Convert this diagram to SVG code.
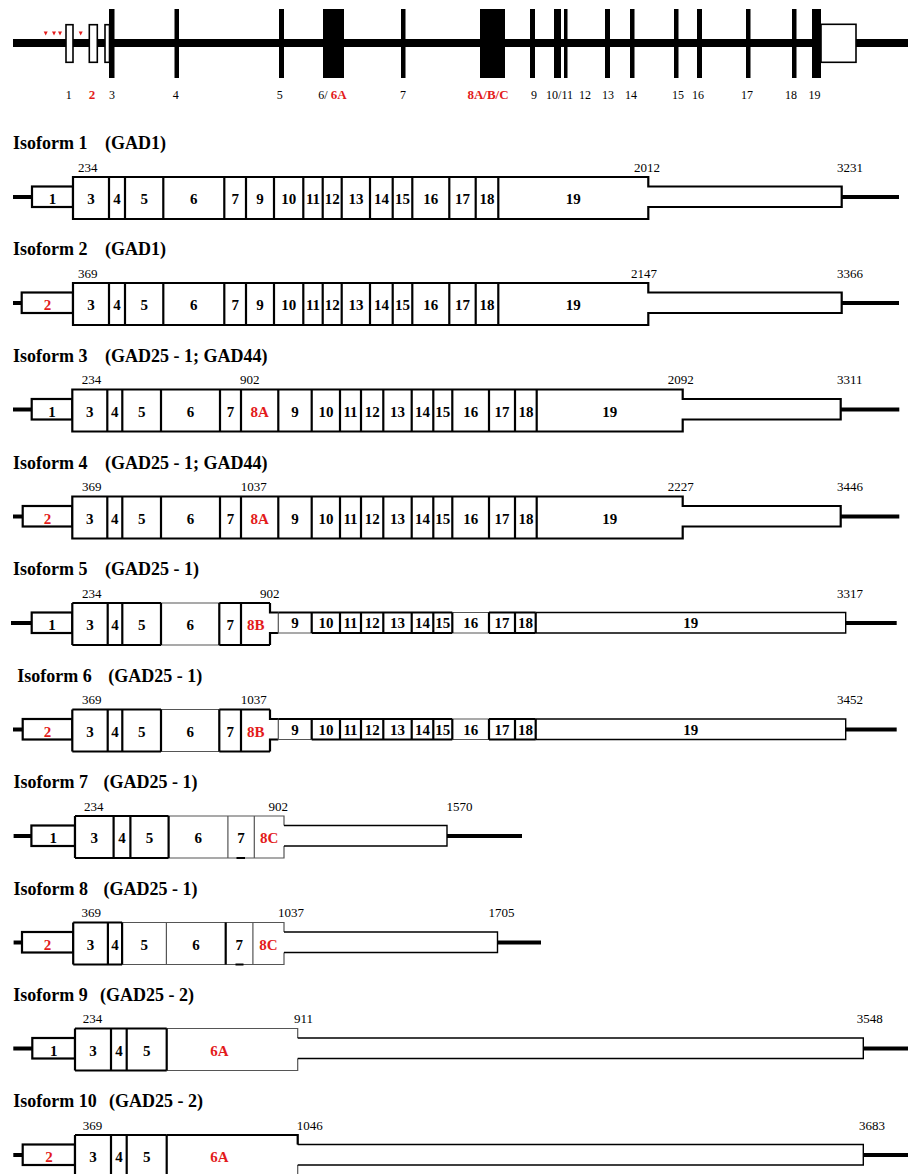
<svg xmlns="http://www.w3.org/2000/svg" width="908" height="1174" viewBox="0 0 908 1174">
<style>
.t{font-family:"Liberation Serif","Times New Roman",serif;fill:#000}
.title{font-size:18px;font-weight:bold}
.ex{font-family:"Liberation Serif","Times New Roman",serif;font-size:15px;font-weight:bold;text-anchor:middle;fill:#000}
.num{font-family:"Liberation Serif","Times New Roman",serif;font-size:13px;fill:#000}
.gl{font-family:"Liberation Serif","Times New Roman",serif;font-size:12px;text-anchor:middle;fill:#000}
.red{fill:#e31b1b}
.ln{stroke:#000;stroke-width:4}
.bx{fill:#fff;stroke:#000;stroke-width:2.2}
.dv{fill:none;stroke:#000;stroke-width:2.2}
.thin{fill:none;stroke:#555;stroke-width:1.2}
.mid{fill:none;stroke:#000;stroke-width:1.4}
.ob{fill:#fff;stroke:#000;stroke-width:1.6}
</style>
<defs>
<g id="core1">
<path class="bx" d="M73,0H648.3V9.5H841.7V30H648.3V42H73Z"/>
<path class="dv" d="M109,0V42M125,0V42M163.3,0V42M224.3,0V42M246,0V42M274,0V42M303.3,0V42M322.7,0V42M341.7,0V42M370,0V42M392.7,0V42M412.3,0V42M449.3,0V42M475.7,0V42M498.3,0V42"/>
<line class="ln" x1="841.7" y1="20" x2="899" y2="20"/>
<text class="ex" y="27"><tspan x="91">3</tspan><tspan x="117">4</tspan><tspan x="144.2">5</tspan><tspan x="193.8">6</tspan><tspan x="235.2">7</tspan><tspan x="260">9</tspan><tspan x="288.7">10</tspan><tspan x="313">11</tspan><tspan x="332.2">12</tspan><tspan x="355.9">13</tspan><tspan x="381.4">14</tspan><tspan x="402.5">15</tspan><tspan x="430.8">16</tspan><tspan x="462.5">17</tspan><tspan x="487">18</tspan><tspan x="573.3">19</tspan></text>
</g>
<g id="core3">
<path class="bx" d="M72.3,0H682.7V9.5H840.7V30H682.7V42H72.3Z"/>
<path class="dv" d="M107.3,0V42M122.3,0V42M161,0V42M220,0V42M241,0V42M278.3,0V42M311.7,0V42M340,0V42M361,0V42M383.3,0V42M411.7,0V42M433.3,0V42M452.3,0V42M489,0V42M515,0V42M536.7,0V42"/>
<line class="ln" x1="840.7" y1="20" x2="899.3" y2="20"/>
<text class="ex" y="27"><tspan x="89.8">3</tspan><tspan x="114.8">4</tspan><tspan x="141.7">5</tspan><tspan x="190.5">6</tspan><tspan x="230.5">7</tspan><tspan x="259.7" class="red">8A</tspan><tspan x="295">9</tspan><tspan x="325.9">10</tspan><tspan x="350.5">11</tspan><tspan x="372.2">12</tspan><tspan x="397.5">13</tspan><tspan x="422.5">14</tspan><tspan x="442.8">15</tspan><tspan x="470.7">16</tspan><tspan x="502">17</tspan><tspan x="525.9">18</tspan><tspan x="609.7">19</tspan></text>
</g>
<g id="core5">
<rect x="72.3" y="0" width="197.7" height="42" fill="#fff"/>
<path class="thin" d="M161,0H219.3M161,42H219.3"/>
<path class="dv" d="M72.3,0H161M72.3,42H161M219.3,0H270M219.3,42H270M72.3,0V42M107.7,0V42M122.3,0V42M161,0V42M219.3,0V42M241,0V42M270,0V9.5H278.3M270,42V30H278.3"/>
<rect x="278.3" y="9.5" width="567.4" height="20.5" fill="#fff"/>
<path class="thin" d="M278.3,9.5V30H311.7M452.3,9.5H489M452.3,30H489"/>
<path class="dv" d="M278.3,9.5H452.3M489,9.5H535.7M311.7,30H452.3M489,30H535.7M311.7,9.5V30M340,9.5V30M361,9.5V30M383.3,9.5V30M411.7,9.5V30M433.3,9.5V30M452.3,9.5V30M489,9.5V30M515,9.5V30M535.7,9.5V30"/>
<path class="mid" d="M535.7,9.5H845.7V30H535.7"/>
<line class="ln" x1="845.7" y1="20" x2="896.7" y2="20"/>
<text class="ex" y="27"><tspan x="90">3</tspan><tspan x="115">4</tspan><tspan x="141.7">5</tspan><tspan x="190.2">6</tspan><tspan x="230.2">7</tspan><tspan x="255.7" class="red">8B</tspan></text>
<text class="ex" y="25"><tspan x="295">9</tspan><tspan x="325.9">10</tspan><tspan x="350.5">11</tspan><tspan x="372.2">12</tspan><tspan x="397.5">13</tspan><tspan x="422.5">14</tspan><tspan x="442.8">15</tspan><tspan x="470.7">16</tspan><tspan x="502">17</tspan><tspan x="525.4">18</tspan><tspan x="690.7">19</tspan></text>
</g>
<g id="core9">
<rect x="75" y="0" width="222.7" height="42" fill="#fff"/>
<path class="thin" d="M166.7,0H297.7V9.5M166.7,42H297.7V30"/>
<path class="dv" d="M75,0H166.7M75,42H166.7M75,0V42M111,0V42M126.7,0V42M166.7,0V42"/>
<rect x="297.7" y="9.5" width="565.6" height="20.5" fill="#fff"/>
<path class="mid" d="M297.7,9.5H863.3V30H297.7"/>
<line class="ln" x1="863.3" y1="20" x2="908" y2="20"/>
<text class="ex" y="27"><tspan x="93">3</tspan><tspan x="118.9">4</tspan><tspan x="146.7">5</tspan><tspan x="219.3" class="red">6A</tspan></text>
</g>
</defs>

<g id="gene">
<line x1="13" y1="43" x2="908" y2="43" stroke="#000" stroke-width="8"/>
<rect class="ob" x="66" y="24.7" width="7" height="37.6"/>
<rect class="ob" x="89.3" y="24.7" width="8" height="37.6"/>
<rect class="ob" x="105" y="24.7" width="4.5" height="37.6"/>
<g fill="#000">
<rect x="109" y="9" width="5.5" height="69"/>
<rect x="174.5" y="9" width="4.5" height="69"/>
<rect x="279" y="9" width="5" height="69"/>
<rect x="323" y="9" width="21" height="69"/>
<rect x="401" y="9" width="4.5" height="69"/>
<rect x="480" y="9" width="25" height="69"/>
<rect x="530" y="9" width="5" height="69"/>
<rect x="554" y="9" width="7" height="69"/>
<rect x="564" y="9" width="3.5" height="69"/>
<rect x="605" y="9" width="5" height="69"/>
<rect x="630" y="9" width="4.5" height="69"/>
<rect x="674" y="9" width="4.5" height="69"/>
<rect x="697" y="9" width="5" height="69"/>
<rect x="746" y="9" width="4.5" height="69"/>
<rect x="792" y="9" width="4.5" height="69"/>
<rect x="812" y="9" width="9" height="69"/>
</g>
<rect class="ob" x="821" y="24.3" width="35" height="38"/>
<g fill="#e31b1b">
<polygon points="43.7,31.5 47.7,31.5 45.7,35.5"/>
<polygon points="52,31.5 56,31.5 54,35.5"/>
<polygon points="58,31.5 62,31.5 60,35.5"/>
<polygon points="78.7,31.5 82.7,31.5 80.7,35.5"/>
</g>
<text class="gl" y="99"><tspan x="68.7">1</tspan><tspan x="92" class="red" font-weight="bold" font-size="13">2</tspan><tspan x="112">3</tspan><tspan x="175.7">4</tspan><tspan x="279.7">5</tspan><tspan x="403">7</tspan><tspan x="534">9</tspan><tspan x="559.5">10/11</tspan><tspan x="585">12</tspan><tspan x="608">13</tspan><tspan x="631">14</tspan><tspan x="678">15</tspan><tspan x="698">16</tspan><tspan x="747">17</tspan><tspan x="791">18</tspan><tspan x="814.5">19</tspan></text>
<text class="t" x="318.3" y="99" font-size="12">6/ <tspan class="red" font-weight="bold" font-size="13">6A</tspan></text>
<text class="t red" x="488" y="99" font-size="13" font-weight="bold" text-anchor="middle">8A/B/C</text>
</g>

<g id="iso1">
<text class="t title" x="13" y="149">Isoform 1</text>
<text class="t title" x="105" y="149">(GAD1)</text>
<line class="ln" x1="13" y1="197" x2="32" y2="197"/>
<rect class="bx" x="32" y="186.5" width="41" height="20.5"/>
<use href="#core1" y="177"/>
<text class="ex" x="52.5" y="204">1</text>
<text class="num" x="78" y="171.5">234</text>
<text class="num" x="634" y="171.5">2012</text>
<text class="num" x="837" y="171.5">3231</text>
</g>

<g id="iso2">
<text class="t title" x="13" y="255">Isoform 2</text>
<text class="t title" x="105" y="255">(GAD1)</text>
<line class="ln" x1="13" y1="303" x2="21.7" y2="303"/>
<rect class="bx" x="21.7" y="292.5" width="51.3" height="20.5"/>
<use href="#core1" y="283"/>
<text class="ex red" x="47.4" y="310">2</text>
<text class="num" x="78" y="277.5">369</text>
<text class="num" x="631" y="277.5">2147</text>
<text class="num" x="837" y="277.5">3366</text>
</g>

<g id="iso3">
<text class="t title" x="13" y="361.5">Isoform 3</text>
<text class="t title" x="105" y="361.5">(GAD25 - 1; GAD44)</text>
<line class="ln" x1="13" y1="409.5" x2="31.7" y2="409.5"/>
<rect class="bx" x="31.7" y="399" width="40.6" height="20.5"/>
<use href="#core3" y="389.5"/>
<text class="ex" x="52" y="416.5">1</text>
<text class="num" x="81.7" y="384">234</text>
<text class="num" x="240" y="384">902</text>
<text class="num" x="667.7" y="384">2092</text>
<text class="num" x="837" y="384">3311</text>
</g>

<g id="iso4">
<text class="t title" x="13" y="468.5">Isoform 4</text>
<text class="t title" x="105" y="468.5">(GAD25 - 1; GAD44)</text>
<line class="ln" x1="13" y1="516.5" x2="22.7" y2="516.5"/>
<rect class="bx" x="22.7" y="506" width="49.6" height="20.5"/>
<use href="#core3" y="496.5"/>
<text class="ex red" x="47.5" y="523.5">2</text>
<text class="num" x="82" y="491">369</text>
<text class="num" x="240.7" y="491">1037</text>
<text class="num" x="667.7" y="491">2227</text>
<text class="num" x="837" y="491">3446</text>
</g>

<g id="iso5">
<text class="t title" x="13" y="575">Isoform 5</text>
<text class="t title" x="105" y="575">(GAD25 - 1)</text>
<line class="ln" x1="11" y1="623" x2="31.7" y2="623"/>
<rect class="bx" x="31.7" y="612.5" width="40.6" height="20.5"/>
<use href="#core5" y="603"/>
<text class="ex" x="52" y="630">1</text>
<text class="num" x="82" y="597.5">234</text>
<text class="num" x="260" y="597.5">902</text>
<text class="num" x="837" y="597.5">3317</text>
</g>

<g id="iso6">
<text class="t title" x="17.3" y="681.5">Isoform 6</text>
<text class="t title" x="108.3" y="681.5">(GAD25 - 1)</text>
<line class="ln" x1="13" y1="729.5" x2="22.7" y2="729.5"/>
<rect class="bx" x="22.7" y="719" width="49.6" height="20.5"/>
<use href="#core5" y="709.5"/>
<text class="ex red" x="47.5" y="736.5">2</text>
<text class="num" x="82" y="704">369</text>
<text class="num" x="240.7" y="704">1037</text>
<text class="num" x="837" y="704">3452</text>
</g>

<g id="iso7">
<text class="t title" x="13.6" y="788">Isoform 7</text>
<text class="t title" x="103.6" y="788">(GAD25 - 1)</text>
<line class="ln" x1="13.6" y1="836" x2="31.4" y2="836"/>
<rect class="bx" x="31.4" y="825.5" width="43.6" height="20.5"/>
<rect x="75" y="816" width="209" height="42" fill="#fff"/>
<rect x="284" y="825.5" width="163" height="20.5" fill="#fff"/>
<path class="thin" d="M168.6,816H284V825.5M168.6,858H284V846M227.9,816V858M254.3,816V858"/>
<path class="dv" d="M75,816H168.6M75,858H168.6M75,816V858M113.6,816V858M130.4,816V858M168.6,816V858M236.5,858H245"/>
<path class="mid" d="M284,825.5H447V846H284"/>
<line class="ln" x1="447" y1="836" x2="522" y2="836"/>
<text class="ex" y="843"><tspan x="53.2">1</tspan><tspan x="94.3">3</tspan><tspan x="122">4</tspan><tspan x="149.5">5</tspan><tspan x="198.3">6</tspan><tspan x="241.1">7</tspan><tspan x="269.2" class="red">8C</tspan></text>
<text class="num" x="84" y="810.5">234</text>
<text class="num" x="268.6" y="810.5">902</text>
<text class="num" x="446.4" y="810.5">1570</text>
</g>

<g id="iso8">
<text class="t title" x="13.6" y="894.5">Isoform 8</text>
<text class="t title" x="103.6" y="894.5">(GAD25 - 1)</text>
<line class="ln" x1="13.6" y1="942.5" x2="22" y2="942.5"/>
<rect class="bx" x="22" y="932" width="51.2" height="20.5"/>
<rect x="73.2" y="922.5" width="210.8" height="42" fill="#fff"/>
<rect x="284" y="932" width="213.5" height="20.5" fill="#fff"/>
<path class="thin" d="M122.1,922.5H284V932M122.1,964.5H284V952.5M166.4,922.5V964.5M252.9,922.5V964.5"/>
<path class="dv" d="M73.2,922.5H122.1M73.2,964.5H122.1M73.2,922.5V964.5M107.9,922.5V964.5M122.1,922.5V964.5M225.7,922.5V964.5M235.5,964.5H243.5"/>
<path class="mid" d="M284,932H497.5V952.5H284"/>
<line class="ln" x1="497.5" y1="942.5" x2="541" y2="942.5"/>
<text class="ex" y="949.5"><tspan x="47.6" class="red">2</tspan><tspan x="90.5">3</tspan><tspan x="115">4</tspan><tspan x="144.3">5</tspan><tspan x="196">6</tspan><tspan x="239.3">7</tspan><tspan x="268.4" class="red">8C</tspan></text>
<text class="num" x="81.4" y="917">369</text>
<text class="num" x="277.9" y="917">1037</text>
<text class="num" x="488.6" y="917">1705</text>
</g>

<g id="iso9">
<text class="t title" x="13.3" y="1000.5">Isoform 9</text>
<text class="t title" x="100" y="1000.5">(GAD25 - 2)</text>
<line class="ln" x1="13.3" y1="1048.5" x2="32.3" y2="1048.5"/>
<rect class="bx" x="32.3" y="1038" width="42.7" height="20.5"/>
<use href="#core9" y="1028.5"/>
<text class="ex" x="53.7" y="1055.5">1</text>
<text class="num" x="82.7" y="1023">234</text>
<text class="num" x="294" y="1023">911</text>
<text class="num" x="856.7" y="1023">3548</text>
</g>

<g id="iso10">
<text class="t title" x="13.3" y="1107">Isoform 10</text>
<text class="t title" x="109" y="1107">(GAD25 - 2)</text>
<line class="ln" x1="13.3" y1="1155" x2="22.7" y2="1155"/>
<rect class="bx" x="22.7" y="1144.5" width="52.3" height="20.5"/>
<use href="#core9" y="1135"/>
<path class="dv" d="M166.7,1135H297.7V1144.5"/>
<text class="ex red" x="48.9" y="1162">2</text>
<text class="num" x="82.7" y="1129.5">369</text>
<text class="num" x="296.7" y="1129.5">1046</text>
<text class="num" x="859" y="1129.5">3683</text>
</g>
</svg>
